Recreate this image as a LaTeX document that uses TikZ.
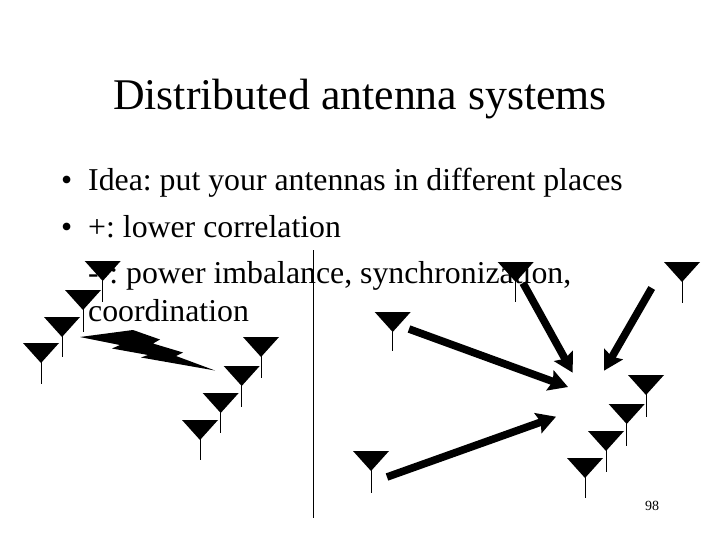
\documentclass[tikz,border=0pt]{standalone}
\usepackage{fontspec}
\setmainfont{Liberation Serif}
\usetikzlibrary{arrows.meta}
\tikzset{
  x=1pt,y=-1pt,
  titletext/.style={anchor=base,inner sep=0pt,font=\fontsize{43.8}{44}\selectfont},
  bodytext/.style={anchor=base west,inner sep=0pt,font=\fontsize{31.8}{32}\selectfont},
  pagenum/.style={anchor=base,inner sep=0pt,font=\fontsize{14}{14}\selectfont},
  antcup/.style={fill=black,draw=none},
  antstem/.style={draw=black,line width=1pt},
  bigarrow/.style={draw=black,line width=7.6pt,-{Stealth[length=19pt,width=21pt,inset=3pt]}},
}
\newcommand{\antenna}[3]{% cx, top, stem end
  \fill[antcup] (#1-18,#2) -- (#1+18,#2) -- (#1,#2+20) -- cycle;
  \draw[antstem] (#1,#2+15) -- (#1,#3);
}
\begin{document}
\frenchspacing
\begin{tikzpicture}
\useasboundingbox (0,0) rectangle (720,540);
\fill[white] (0,0) rectangle (720,540);
\node[titletext] (title) at (360,110) {Distributed antenna systems};
\node[bodytext] (b1) at (61,191) {•};
\node[bodytext] (t1) at (88,191) {Idea: put your antennas in different places};
\node[bodytext] (b2) at (61,237) {•};
\node[bodytext] (t2) at (88,237) {+: lower correlation};
\node[bodytext] (t3) at (88,283) {-\kern10.6pt: power imbalance, synchronization,};
\node[bodytext] (t4) at (88,321) {coordination};
\node[pagenum] (pg) at (652,510) {98};
\draw[black,line width=1pt] (313,250) -- (313,518);
\antenna{102.7}{261}{302}
\antenna{83}{290}{332}
\antenna{62}{317}{357}
\antenna{41}{343}{384}
\antenna{261}{337}{378}
\antenna{241.7}{366}{407}
\antenna{220.7}{393}{433}
\antenna{200}{420}{460}
\antenna{515.7}{262}{302}
\antenna{682}{262}{303}
\antenna{392.7}{312}{351}
\antenna{371}{451}{493}
\antenna{646}{375}{417}
\antenna{626.7}{404}{446}
\antenna{606}{431}{472}
\antenna{585}{458}{498}
\fill[black] (80,337) -- (133,330) -- (160,339.5) -- (153,343.5) -- (183,352.5) -- (176,356) -- (215,370.5) -- (141,357.5) -- (148,355) -- (112,348.5) -- (120,345) -- cycle;
\coordinate (s1) at (523,283); \coordinate (e1) at (572.7,372.7);
\coordinate (s2) at (651.7,288); \coordinate (e2) at (604,370.7);
\coordinate (s3) at (409,329); \coordinate (e3) at (568,387);
\coordinate (s4) at (387,477); \coordinate (e4) at (556,416.7);
\draw[bigarrow] (s1) -- (e1);
\draw[bigarrow] (s2) -- (e2);
\draw[bigarrow] (s3) -- (e3);
\draw[bigarrow] (s4) -- (e4);
\end{tikzpicture}
\end{document}
